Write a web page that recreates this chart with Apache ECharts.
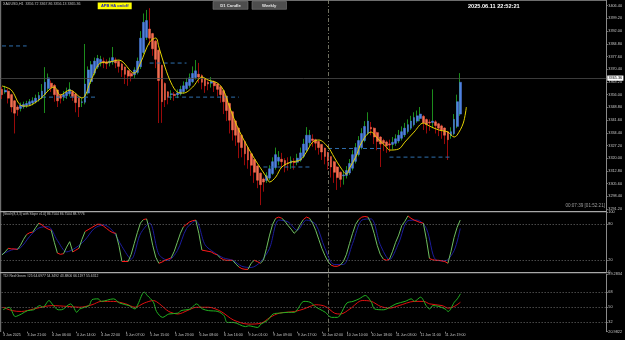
<!DOCTYPE html>
<html><head><meta charset="utf-8">
<script src="https://cdn.jsdelivr.net/npm/echarts@6/dist/echarts.min.js"></script>
<style>html,body{margin:0;padding:0;background:#000;}#c{width:625px;height:340px;}</style>
</head><body><div id="c"></div>
<script>
// ---------------- DATA ----------------
const symbolHeader = "XAUUSD,H1  3356.72 3367.86 3356.13 3365.36";
const stochTitle = "[Stoch(8,3,3) with Slope v1.0] 86.7504 86.7504 88.7776";
const tdiTitle = "TDI Red Green #25 64.6977 54.3492 43.8806 66.1197 55.6312";
const serverTime = "2025.06.11 22:52:21";
const barTimer = "00:07:39 [01:52:21]";
const bidPrice = 3365.36;
const cursorBar = 106;

const xTickBars = [0,8,16,24,32,40,48,56,64,72,80,88,96,104,112,120,128,136,144];
const xTickLabels = ["3 Jun 2025","3 Jun 21:00","4 Jun 06:00","4 Jun 14:00","4 Jun 22:00","5 Jun 07:00","5 Jun 15:00","5 Jun 23:00","6 Jun 08:00","6 Jun 16:00","9 Jun 01:00","9 Jun 09:00","9 Jun 17:00","10 Jun 02:00","10 Jun 10:00","10 Jun 18:00","11 Jun 03:00","11 Jun 11:00","11 Jun 19:00"];
const priceTicks = [3406.40,3399.20,3392.00,3384.80,3377.60,3370.40,3363.20,3356.00,3348.80,3341.60,3334.40,3327.20,3320.00,3312.80,3305.60,3298.40,3291.20];
const stochTicks = [100,80,20,0];
const stochLevels = [80,20];
const tdiTicks = [89.2834,68,50,32,20.9822];
const tdiLevels = [68,50,32];

const haOpen = [3359.0,3357.5,3358.0,3356.0,3352.5,3349.0,3348.2,3349.1,3349.8,3350.4,3351.2,3351.8,3352.9,3354.2,3356.1,3359.5,3362.5,3361.2,3358.6,3355.5,3354.8,3355.4,3356.5,3357.7,3356.4,3354.0,3351.5,3351.7,3356.9,3363.4,3368.2,3371.6,3374.0,3375.0,3374.5,3374.0,3374.5,3375.7,3374.9,3373.4,3371.7,3369.6,3368.0,3367.3,3368.6,3371.8,3379.9,3388.4,3393.2,3390.6,3386.3,3381.2,3372.6,3362.3,3357.6,3356.0,3356.2,3355.9,3356.4,3357.7,3359.4,3361.2,3363.3,3365.7,3367.6,3366.8,3364.9,3363.0,3362.5,3363.0,3362.0,3360.5,3358.3,3355.1,3351.0,3346.3,3341.1,3337.0,3333.0,3329.5,3326.0,3322.5,3319.2,3315.6,3311.5,3308.2,3307.4,3308.7,3311.3,3314.7,3318.3,3319.4,3318.7,3317.4,3317.2,3317.9,3317.7,3318.9,3321.0,3324.5,3328.8,3330.9,3330.5,3329.5,3327.8,3325.7,3323.3,3320.9,3318.0,3315.0,3312.0,3310.0,3310.2,3311.6,3314.3,3318.2,3322.1,3326.0,3330.0,3334.0,3337.5,3337.0,3334.5,3332.0,3330.0,3329.2,3328.1,3327.8,3328.4,3329.7,3331.3,3333.2,3335.1,3337.0,3339.0,3341.0,3342.5,3343.7,3341.9,3340.5,3340.2,3340.6,3339.5,3338.3,3337.1,3335.0,3332.8,3333.9,3338.0,3345.0];
const haClose = [3356.0,3358.5,3354.0,3349.0,3345.5,3347.5,3350.0,3350.5,3351.0,3352.0,3352.5,3354.0,3355.5,3358.0,3363.0,3365.5,3360.0,3356.0,3352.5,3354.0,3356.0,3357.5,3359.0,3355.0,3351.5,3349.0,3352.0,3362.0,3370.0,3373.0,3375.0,3376.5,3376.0,3374.0,3373.5,3375.0,3377.0,3374.0,3372.0,3370.0,3367.5,3366.5,3366.5,3370.0,3375.0,3388.0,3397.0,3398.0,3388.0,3382.0,3376.0,3364.0,3352.0,3353.0,3354.5,3356.5,3355.5,3357.0,3359.0,3361.0,3363.0,3365.5,3368.0,3369.5,3366.0,3363.0,3361.0,3362.0,3363.5,3361.0,3359.0,3356.0,3352.0,3347.0,3341.5,3336.0,3333.0,3329.0,3326.0,3322.5,3319.0,3316.0,3312.0,3307.5,3305.0,3306.5,3310.0,3314.0,3318.0,3322.0,3320.5,3318.0,3316.0,3317.0,3318.5,3317.5,3320.0,3323.0,3328.0,3333.0,3333.0,3330.0,3328.5,3326.0,3323.5,3321.0,3318.5,3315.0,3312.0,3309.0,3308.0,3310.5,3313.0,3317.0,3322.0,3326.0,3330.0,3334.0,3338.0,3341.0,3336.5,3332.0,3329.5,3328.0,3328.5,3327.0,3327.5,3329.0,3331.0,3333.0,3335.0,3337.0,3339.0,3341.0,3343.0,3344.0,3345.0,3340.0,3339.0,3340.0,3341.0,3338.5,3337.0,3336.0,3333.0,3330.5,3335.0,3342.0,3352.0,3363.0];
const haLow = [3353.5,3356.5,3351.0,3346.0,3334.0,3344.0,3346.5,3348.0,3348.5,3349.5,3350.0,3351.0,3352.0,3353.5,3345.6,3358.0,3357.5,3352.0,3349.0,3351.0,3352.5,3353.5,3355.0,3352.5,3346.0,3343.3,3349.0,3350.5,3356.0,3362.0,3367.0,3370.5,3372.0,3371.0,3370.5,3372.0,3373.0,3371.0,3368.5,3366.0,3362.0,3361.0,3363.5,3365.5,3367.5,3370.5,3379.0,3387.0,3384.0,3378.0,3371.0,3339.9,3340.0,3349.0,3350.5,3353.0,3352.5,3354.0,3355.5,3356.5,3358.5,3360.0,3362.5,3364.5,3362.5,3359.0,3357.0,3358.5,3360.0,3357.5,3355.0,3351.5,3345.0,3341.0,3334.0,3330.0,3327.0,3320.0,3320.5,3316.0,3314.0,3310.0,3306.0,3303.0,3293.4,3301.0,3306.0,3307.5,3310.5,3313.5,3316.0,3314.5,3312.0,3313.0,3314.0,3313.5,3316.0,3318.0,3320.0,3323.5,3327.0,3326.5,3324.5,3322.0,3319.0,3316.5,3313.5,3309.0,3306.0,3302.0,3303.5,3305.0,3308.5,3310.5,3313.0,3317.0,3321.0,3325.0,3329.0,3333.0,3333.0,3328.0,3324.5,3315.0,3324.0,3323.0,3323.5,3325.0,3327.0,3328.5,3330.0,3332.0,3334.0,3336.0,3338.0,3340.0,3341.0,3336.0,3334.0,3335.5,3337.0,3334.0,3332.5,3331.0,3328.0,3319.0,3331.0,3333.0,3337.0,3344.0];
const haHigh = [3360.5,3361.0,3359.5,3356.5,3353.0,3350.0,3351.5,3352.0,3352.5,3353.5,3354.5,3356.0,3357.5,3362.0,3371.6,3368.0,3364.0,3362.0,3359.0,3356.5,3358.0,3360.0,3363.0,3358.5,3357.0,3354.5,3354.0,3384.7,3372.0,3375.0,3377.0,3378.5,3378.0,3377.0,3376.0,3377.0,3383.0,3377.0,3375.5,3374.0,3372.0,3370.0,3369.0,3371.5,3377.0,3392.0,3402.0,3404.0,3405.0,3391.0,3387.0,3381.5,3373.0,3363.0,3358.0,3358.5,3357.5,3359.0,3361.0,3363.5,3365.5,3368.0,3372.0,3375.6,3374.0,3367.5,3365.5,3364.0,3366.0,3364.0,3362.5,3361.0,3358.5,3355.5,3351.5,3346.5,3341.5,3337.5,3333.5,3330.0,3326.5,3323.0,3319.5,3316.0,3312.0,3309.0,3312.0,3316.0,3320.5,3326.0,3324.0,3323.0,3320.0,3320.5,3321.0,3320.0,3322.5,3326.0,3331.0,3337.6,3336.0,3333.5,3331.0,3330.0,3328.0,3326.0,3323.5,3321.0,3318.5,3315.5,3312.5,3313.0,3315.5,3319.5,3324.5,3328.5,3332.5,3337.0,3341.0,3346.0,3340.5,3337.5,3335.0,3332.5,3331.0,3330.0,3330.5,3332.0,3333.5,3336.0,3338.0,3340.0,3342.0,3344.0,3346.0,3347.0,3349.0,3344.5,3342.5,3342.0,3359.0,3341.5,3340.0,3339.0,3337.5,3335.5,3337.5,3345.0,3356.0,3368.2];

// yellow smoothing line [bar, price]
const maLine = [[0,3360.9],[3,3358.6],[6,3350.1],[8,3349.5],[12,3353.0],[17,3360.3],[19,3355.8],[22,3358.6],[26,3354.1],[29,3364.3],[32,3373.9],[35,3374.5],[38,3375.6],[43,3368.2],[45,3373.9],[48,3385.8],[50,3388.1],[51,3383.0],[53,3371.6],[55,3362.6],[57,3357.5],[59,3356.9],[62,3360.3],[65,3366.0],[67,3364.3],[70,3362.6],[72,3358.6],[74,3349.0],[77,3336.0],[81,3322.9],[83,3317.2],[86,3309.3],[87,3306.5],[89,3309.3],[91,3315.0],[94,3317.8],[97,3319.0],[99,3323.5],[101,3329.1],[103,3330.3],[106,3326.3],[108,3320.6],[110,3315.0],[112,3311.0],[113,3314.4],[115,3320.6],[117,3329.1],[120,3334.8],[122,3331.4],[125,3326.3],[126,3324.6],[129,3325.2],[131,3329.1],[134,3334.8],[137,3339.9],[139,3338.2],[142,3336.0],[145,3334.8],[147,3332.0],[148,3333.1],[150,3339.9],[151,3349.0]];

// dashed support / resistance segments
const srFrom  = [0, 13, 48, 54, 85, 106, 126];
const srTo    = [8, 31, 60, 77, 100, 124, 146];
const srPrice = [3383.6, 3354.6, 3373.9, 3354.6, 3315.0, 3325.5, 3320.6];

// stochastic main (per bar) and signal [bar, value]
const stochMain = [29,34,40,39,39,38,45,55,63,66,67,75,82,79,75,72,70,50,32,30,31,42,51,34,37,40,55,68,71,74,77,80,80,77,73,69,66,65,45,18,18,18,30,48,66,82,88,89,70,45,25,15,17,20,22,24,35,50,65,76,80,84,86,87,65,37,36,35,34,31,29,24,21,20,20,20,14,9,6,5,5,15,20,18,15,20,40,62,80,90,92,90,85,78,72,65,70,80,88,92,90,82,70,55,40,28,18,12,10,10,12,18,30,48,65,80,88,92,93,92,82,65,45,30,22,20,22,35,50,62,78,85,94,90,87,85,83,82,55,23,21,20,20,19,18,15,35,58,75,87];
const stochSignal = [[0,30],[3,37],[6,41],[9,60],[12,74],[15,76],[18,53],[21,34],[24,41],[27,54],[30,73],[33,79],[36,69],[39,43],[42,22],[45,64],[48,82],[51,30],[54,20],[57,36],[60,73],[63,86],[66,46],[69,33],[72,24],[75,20],[78,10],[81,8],[84,17],[87,40],[90,87],[93,84],[96,70],[99,87],[102,80],[105,40],[108,13],[111,13],[114,48],[117,87],[120,89],[123,46],[126,21],[129,49],[132,86],[135,87],[138,73],[141,21],[144,19],[147,36],[149,73]];

// TDI lines [bar, value]
const tdiGreen = [[0,47],[2,50],[4,39],[6,42],[8,46],[10,47],[12,52],[13,50],[15,58],[16,54],[18,47],[19,47],[22,54],[23,50],[24,44],[25,48],[28,52],[29,59],[31,60],[32,57],[36,60],[38,55],[41,52],[43,48],[44,54],[46,68],[47,64],[49,56],[50,45],[52,38],[54,42],[57,43],[58,46],[61,48],[63,54],[65,48],[67,46],[70,45],[72,40],[73,32],[75,32],[79,27],[80,28],[83,26],[84,30],[86,34],[88,42],[90,43],[93,44],[95,44],[96,48],[98,57],[100,56],[102,50],[103,48],[105,44],[107,38],[109,38],[110,42],[112,55],[114,57],[116,60],[118,64],[120,56],[121,48],[124,47],[126,50],[128,54],[131,57],[133,60],[134,57],[136,62],[138,51],[139,48],[140,52],[142,51],[144,48],[145,45],[147,56],[148,60],[149,66]];
const tdiRed = [[0,50],[3,46],[6,45],[10,48],[16,52],[21,51],[25,50],[29,53],[32,57],[36,57],[40,54],[43,50],[46,55],[49,58],[51,54],[54,45],[57,42],[60,46],[63,50],[67,50],[71,45],[75,35],[80,30],[84,31],[87,38],[90,43],[95,45],[98,48],[100,51],[102,53],[105,51],[108,43],[110,42],[113,48],[117,58],[120,57],[123,51],[126,49],[129,52],[134,57],[137,57],[139,54],[143,52],[145,49],[147,51],[149,56]];

// ---------------- CHART ----------------
const SLOTS = 197;
const cats = Array.from({length: SLOTS}, (_, i) => String(i));
const FONT = 'Liberation Sans';
const tickMap = {}; xTickBars.forEach((b, k) => { tickMap[b] = xTickLabels[k]; });
const isTick = (i) => Object.prototype.hasOwnProperty.call(tickMap, i);

const gridL = 0.5, gridW = SLOTS * 3.075;
const grids = [
  {left: gridL, top: 0, width: gridW, height: 211},
  {left: gridL, top: 212.3, width: gridW, height: 60},
  {left: gridL, top: 274.2, width: gridW, height: 57.5}
];

const xAxes = [0,1,2].map(g => ({
  type: 'category', gridIndex: g, data: cats, boundaryGap: true,
  axisLine: {show: false},
  axisTick: {show: g === 2, interval: (i) => isTick(i), alignWithLabel: true, length: 1.5, lineStyle: {color: '#9a9a9a', width: 0.8}},
  axisLabel: {show: g === 2, interval: (i) => isTick(i), formatter: (v, i) => tickMap[i] || '', align: 'left', margin: 1.2, fontSize: 3.6, color: '#c8c8c8', fontFamily: FONT},
  splitLine: {show: false}
}));

const yLabel = (vals, fmt) => ({customValues: vals, formatter: fmt, fontSize: 3.8, color: '#c8c8c8', margin: 2, fontFamily: FONT, showMinLabel: true, showMaxLabel: true});
const yAxes = [
  {type: 'value', gridIndex: 0, position: 'right', min: 3290.07, max: 3409.63, scale: true,
   axisLine: {show: true, lineStyle: {color: '#8a8a8a', width: 1}},
   axisTick: {show: true, customValues: priceTicks, length: 1.5, lineStyle: {color: '#8a8a8a'}},
   axisLabel: yLabel(priceTicks, v => v.toFixed(2)), splitLine: {show: false}},
  {type: 'value', gridIndex: 1, position: 'right', min: 0, max: 100,
   axisLine: {show: true, lineStyle: {color: '#8a8a8a', width: 1}},
   axisTick: {show: true, customValues: stochTicks, length: 1.5, lineStyle: {color: '#8a8a8a'}},
   axisLabel: yLabel(stochTicks, v => String(v)), splitLine: {show: false}},
  {type: 'value', gridIndex: 2, position: 'right', min: tdiTicks[tdiTicks.length - 1], max: tdiTicks[0],
   axisLine: {show: true, lineStyle: {color: '#8a8a8a', width: 1}},
   axisTick: {show: true, customValues: tdiTicks, length: 1.5, lineStyle: {color: '#8a8a8a'}},
   axisLabel: yLabel(tdiTicks, v => (Number.isInteger(v) ? String(v) : v.toFixed(4))), splitLine: {show: false}}
];

const vLine = {silent: true, symbol: 'none', label: {show: false},
  lineStyle: {color: '#8c8c78', type: [4, 2, 1, 2], width: 0.8}, data: [{xAxis: cursorBar}]};

const series = [];
// wicks
series.push({type: 'candlestick', xAxisIndex: 0, yAxisIndex: 0, barWidth: 0.6, z: 2,
  data: haOpen.map((o, i) => [o, haClose[i], haLow[i], haHigh[i]]),
  itemStyle: {color: '#1c8c1c', color0: '#9a0a0a', borderColor: '#1c8c1c', borderColor0: '#9a0a0a', borderWidth: 1},
  markLine: vLine});
// bodies
series.push({type: 'candlestick', xAxisIndex: 0, yAxisIndex: 0, barWidth: 2.3, z: 3,
  data: haOpen.map((o, i) => [o, haClose[i], Math.min(o, haClose[i]), Math.max(o, haClose[i])]),
  itemStyle: {color: '#4f80e0', color0: '#f26d50', borderColor: '#4f80e0', borderColor0: '#f26d50', borderWidth: 0.5},
  markLine: {silent: true, symbol: 'none', precision: 2,
    lineStyle: {color: '#4a4a4a', type: 'solid', width: 0.8},
    label: {show: true, position: 'end', distance: 1, formatter: () => bidPrice.toFixed(2), color: '#000', backgroundColor: '#ffffff', fontSize: 3.8, padding: [0.6, 1.2], fontFamily: FONT},
    data: [{yAxis: bidPrice}]}});
// S/R dashed segments
srPrice.forEach((p, k) => {
  series.push({type: 'line', xAxisIndex: 0, yAxisIndex: 0, symbol: 'none', z: 4, silent: true,
    data: [[srFrom[k], p], [srTo[k], p]], lineStyle: {color: '#2f6fae', width: 1, type: [4, 3]}});
});
// yellow line
series.push({type: 'line', xAxisIndex: 0, yAxisIndex: 0, symbol: 'none', smooth: 0.35, z: 5,
  data: maLine, lineStyle: {color: '#e6d400', width: 1}});

// stochastic
series.push({type: 'line', xAxisIndex: 1, yAxisIndex: 1, symbol: 'none', smooth: 0.3, z: 3,
  data: stochSignal, lineStyle: {color: '#1c1c9c', width: 1},
  markLine: {silent: true, symbol: 'none', label: {show: false}, lineStyle: {color: '#7a7a7a', type: [1.5, 1.5], width: 0.6},
    data: stochLevels.map(v => ({yAxis: v}))}});
series.push({type: 'line', xAxisIndex: 1, yAxisIndex: 1, symbol: 'none', data: [], markLine: vLine});
series.push({type: 'custom', xAxisIndex: 1, yAxisIndex: 1, z: 4,
  data: stochMain.slice(0, -1).map((v, i) => [i, v, stochMain[i + 1]]),
  encode: {x: 0, y: [1, 2]},
  renderItem: (params, api) => {
    const i = api.value(0), v0 = api.value(1), v1 = api.value(2);
    const p0 = api.coord([i, v0]), p1 = api.coord([i + 1, v1]);
    const flat = Math.abs(v1 - v0) < 5;
    return {type: 'line', shape: {x1: p0[0], y1: p0[1], x2: p1[0], y2: p1[1]},
      style: {stroke: flat ? '#ff1a1a' : '#6fbf5f', lineWidth: 1}};
  }});

// TDI
series.push({type: 'line', xAxisIndex: 2, yAxisIndex: 2, symbol: 'none', smooth: 0.3, z: 3,
  data: tdiRed, lineStyle: {color: '#e01010', width: 1},
  markLine: {silent: true, symbol: 'none', label: {show: false}, lineStyle: {color: '#7a7a7a', type: [1.5, 1.5], width: 0.6},
    data: tdiLevels.map(v => ({yAxis: v}))}});
series.push({type: 'line', xAxisIndex: 2, yAxisIndex: 2, symbol: 'none', smooth: 0.3, z: 4,
  data: tdiGreen, lineStyle: {color: '#22b322', width: 1}, markLine: vLine});

const txt = (x, y, text, size, fill, extra) => Object.assign({type: 'text', x, y, silent: true,
  style: Object.assign({text, fontSize: size, fill, fontFamily: FONT}, extra || {})});
const graphic = [
  {type: 'rect', silent: true, shape: {x: 0, y: 0, width: 607, height: 1}, style: {fill: '#6e6e6e'}},
  {type: 'rect', silent: true, shape: {x: 0, y: 0, width: 1.2, height: 332}, style: {fill: '#6e6e6e'}},
  {type: 'rect', silent: true, shape: {x: 0, y: 210.9, width: 607, height: 1.4}, style: {fill: '#a8a8a8'}},
  {type: 'rect', silent: true, shape: {x: 0, y: 271.9, width: 607, height: 1.4}, style: {fill: '#a8a8a8'}},
  txt(3, 2.2, symbolHeader, 3.6, '#c4c4c4'),
  {type: 'rect', silent: true, shape: {x: 97.7, y: 2.5, width: 34, height: 6.8}, style: {fill: '#ffff00'}},
  txt(114.7, 5.9, 'APB HA on/off', 4, '#1414c8', {align: 'center', verticalAlign: 'middle', fontWeight: 'bold'}),
  {type: 'rect', silent: true, shape: {x: 213, y: 1.5, width: 35, height: 7.8}, style: {fill: '#4e4e4e', stroke: '#7c7c7c', lineWidth: 0.6}},
  txt(230.5, 5.4, 'D1 Candle', 4.2, '#e6e6e6', {align: 'center', verticalAlign: 'middle', fontWeight: 'bold'}),
  {type: 'rect', silent: true, shape: {x: 252, y: 1.5, width: 34.5, height: 7.8}, style: {fill: '#4e4e4e', stroke: '#7c7c7c', lineWidth: 0.6}},
  txt(269.2, 5.4, 'Weekly', 4.2, '#e6e6e6', {align: 'center', verticalAlign: 'middle', fontWeight: 'bold'}),
  txt(468, 3, serverTime, 5.6, '#ffffff', {fontWeight: 'bold'}),
  txt(605, 206.2, barTimer, 4.6, '#9c9c9c', {align: 'right', verticalAlign: 'middle'}),
  txt(3, 214.3, stochTitle, 3.3, '#c4c4c4', {verticalAlign: 'middle'}),
  txt(3, 276.2, tdiTitle, 3.4, '#c4c4c4', {verticalAlign: 'middle'})
];

const chart = echarts.init(document.getElementById('c'), null, {renderer: 'canvas', width: 625, height: 340});
chart.setOption({
  backgroundColor: '#000000',
  animation: false,
  grid: grids,
  xAxis: xAxes,
  yAxis: yAxes,
  series,
  graphic
});
</script>
</body></html>
